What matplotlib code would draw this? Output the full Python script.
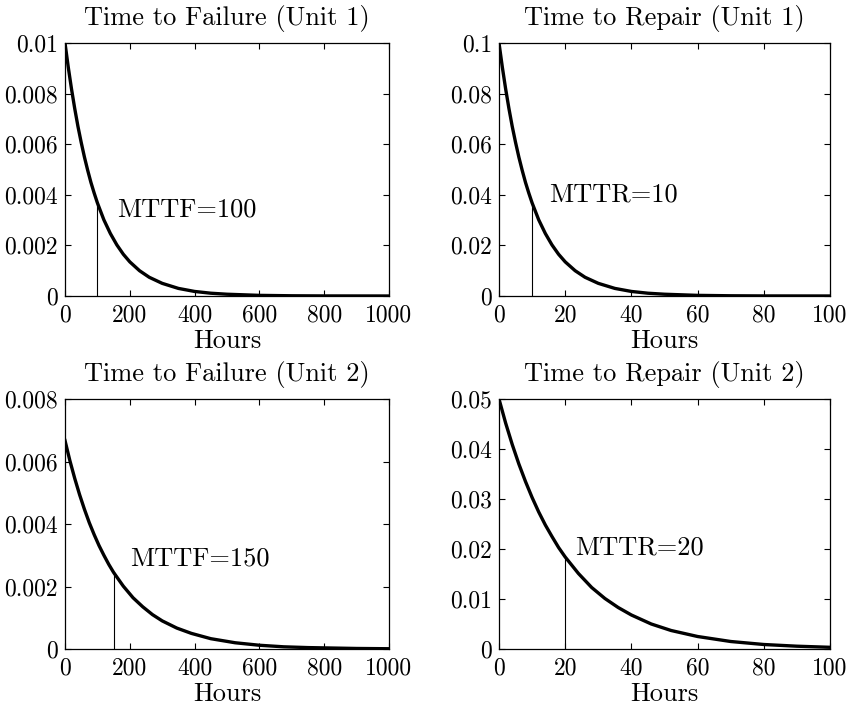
import numpy as np
import matplotlib
matplotlib.use("Agg")
import matplotlib.pyplot as plt
from matplotlib.ticker import FuncFormatter

plt.rcParams["font.family"] = "cmr10"
plt.rcParams["mathtext.fontset"] = "cm"
plt.rcParams["axes.formatter.use_mathtext"] = True

# ---- data ----
# Unit 1, time to failure (MTTF = 100 h)
fail1_hours = [0, 10, 20, 30, 40, 50, 60, 70, 80, 90, 100, 120, 140, 160, 180, 200,
               230, 260, 300, 350, 400, 450, 500, 600, 700, 800, 1000]
fail1_pdf = [0.01, 0.00905, 0.00819, 0.00741, 0.0067, 0.00607, 0.00549, 0.00497, 0.00449,
             0.00407, 0.00368, 0.00301, 0.00247, 0.00202, 0.00165, 0.00135, 0.001, 0.00074,
             0.0005, 0.0003, 0.00018, 0.00011, 0.00007, 0.000025, 0.000009, 0.000003, 0.0000005]
# Unit 1, time to repair (MTTR = 10 h)
rep1_hours = [0, 1, 2, 3, 4, 5, 6, 7, 8, 9, 10, 12, 14, 16, 18, 20,
              23, 26, 30, 35, 40, 45, 50, 60, 70, 80, 100]
rep1_pdf = [0.1, 0.0905, 0.0819, 0.0741, 0.067, 0.0607, 0.0549, 0.0497, 0.0449,
            0.0407, 0.0368, 0.0301, 0.0247, 0.0202, 0.0165, 0.0135, 0.01, 0.0074,
            0.005, 0.003, 0.0018, 0.0011, 0.0007, 0.00025, 0.00009, 0.00003, 0.000005]
# Unit 2, time to failure (MTTF = 150 h)
fail2_hours = [0, 15, 30, 45, 60, 75, 90, 105, 120, 135, 150, 180, 210, 240, 270, 300,
               345, 390, 450, 525, 600, 675, 750, 900, 1000]
fail2_pdf = [0.00667, 0.00603, 0.00546, 0.00494, 0.00447, 0.00404, 0.00366, 0.00331, 0.003,
             0.00271, 0.00245, 0.00201, 0.00164, 0.00135, 0.0011, 0.0009, 0.00067, 0.0005,
             0.00033, 0.0002, 0.00012, 0.00007, 0.000045, 0.000017, 0.0000085]
# Unit 2, time to repair (MTTR = 20 h)
rep2_hours = [0, 2, 4, 6, 8, 10, 12, 14, 16, 18, 20, 24, 28, 32, 36, 40,
              46, 52, 60, 70, 80, 90, 100]
rep2_pdf = [0.05, 0.0452, 0.0409, 0.037, 0.0335, 0.0303, 0.0274, 0.0248, 0.0225, 0.0203,
            0.0184, 0.0151, 0.0123, 0.0101, 0.0083, 0.0068, 0.005, 0.0037, 0.0025, 0.0015,
            0.0009, 0.00056, 0.00034]

titles = ["Time to Failure (Unit 1)", "Time to Repair (Unit 1)",
          "Time to Failure (Unit 2)", "Time to Repair (Unit 2)"]
labels = ["MTTF=100", "MTTR=10", "MTTF=150", "MTTR=20"]
means = [100, 10, 150, 20]
mean_pdf = [0.00368, 0.0368, 0.00245, 0.0184]
label_pos = [(160, 0.0034), (15, 0.040), (200, 0.0029), (23, 0.0202)]
x_max = [1000, 100, 1000, 100]
y_max = [0.01, 0.1, 0.008, 0.05]
y_step = [0.002, 0.02, 0.002, 0.01]
x_step = [200, 20, 200, 20]

series = [(fail1_hours, fail1_pdf), (rep1_hours, rep1_pdf),
          (fail2_hours, fail2_pdf), (rep2_hours, rep2_pdf)]

fig = plt.figure(figsize=(8.53, 7.14), dpi=100)
W, H = 853, 714
boxes = [(65, 43, 389, 296), (499, 43, 830, 296),
         (65, 399, 389, 649), (499, 399, 830, 649)]

fmt = FuncFormatter(lambda v, p: "%g" % round(v, 6))

for i, (x0, y0, x1, y1) in enumerate(boxes):
    ax = fig.add_axes([x0 / W, 1 - y1 / H, (x1 - x0) / W, (y1 - y0) / H])
    hrs, pdf = series[i]
    ax.plot(hrs, pdf, color="black", lw=2.4)
    ax.plot([means[i], means[i]], [0, mean_pdf[i]], color="black", lw=0.8)
    ax.text(label_pos[i][0], label_pos[i][1], labels[i], fontsize=19, va="center", ha="left")
    ax.set_xlim(0, x_max[i])
    ax.set_ylim(0, y_max[i])
    ax.set_xticks(np.arange(0, x_max[i] + 1e-9, x_step[i]))
    ax.set_yticks(np.arange(0, y_max[i] + 1e-9, y_step[i]))
    ax.xaxis.set_major_formatter(fmt)
    ax.yaxis.set_major_formatter(fmt)
    ax.tick_params(direction="in", top=True, right=True, length=4, labelsize=17)
    ax.tick_params(axis="x", pad=6)
    ax.tick_params(axis="y", pad=5)
    ax.set_title(titles[i], fontsize=19, pad=13)
    ax.set_xlabel("Hours", fontsize=19, labelpad=2)
    for s in ax.spines.values():
        s.set_linewidth(0.9)

fig.savefig("out.png", dpi=100)
